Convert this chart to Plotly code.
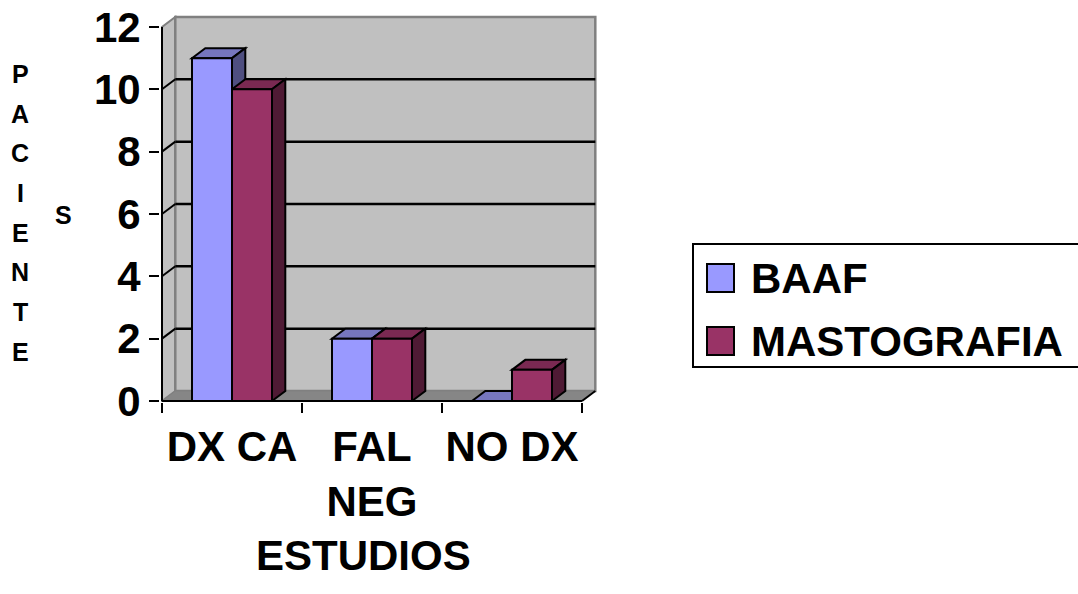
import plotly.graph_objects as go

# ---- data ----
categories = ["DX CA", "FAL<br>NEG", "NO DX"]
series_names = ["BAAF", "MASTOGRAFIA"]
baaf = [11, 2, 0]
mastografia = [10, 2, 1]
y_tick_values = [0, 2, 4, 6, 8, 10, 12]
y_title = "PACIENTES"
x_title = "ESTUDIOS"

# ---- styling ----
FONT = "Liberation Sans, Arial, sans-serif"
FRONT = ["#9999FF", "#993366"]
TOP = ["#7676BE", "#7A2952"]
SIDE = ["#4F4F80", "#4F1A34"]
WALL = "#C0C0C0"
EDGE = "#808080"
FLOOR = "#868686"

W, H = 1078, 594
M_L, M_R, M_T, M_B = 160, 480, 15, 192
PX_PER_CAT = 140.0
PX_PER_UNIT = 31.17
DX = 13.3 / PX_PER_CAT      # depth offset of the 3D box (category units)
DY = 10.0 / PX_PER_UNIT     # depth offset of the 3D box (value units)
BAR_W = 0.2857
OFFSETS = [-BAR_W, 0.0]
Y_TOP = y_tick_values[-1]

plot_w = W - M_L - M_R
plot_h = H - M_T - M_B
x_lo = -0.5 - 2.0 / PX_PER_CAT
x_hi = x_lo + plot_w / PX_PER_CAT
y_lo = -1.0 / PX_PER_UNIT
y_hi = y_lo + plot_h / PX_PER_UNIT


def px_x(px):
    return (px - M_L) / plot_w


def px_y(py):
    return (H - M_B - py) / plot_h


series_values = [baaf, mastografia]

fig = go.Figure()
for s, name in enumerate(series_names):
    fig.add_trace(go.Bar(
        x=categories, y=series_values[s], name=name,
        width=BAR_W, offset=OFFSETS[s],
        marker=dict(color=FRONT[s], line=dict(color="black", width=2)),
        hoverinfo="x+y+name", showlegend=False,
    ))

shapes = []
xl, xr = -0.5, len(categories) - 0.5

# side wall, back wall and floor of the 3D box
shapes.append(dict(type="path", xref="x", yref="y", layer="below",
                   path=f"M{xl},0 L{xl+DX},{DY} L{xl+DX},{Y_TOP+DY} L{xl},{Y_TOP} Z",
                   fillcolor=WALL, line=dict(color=EDGE, width=2)))
shapes.append(dict(type="rect", xref="x", yref="y", layer="below",
                   x0=xl + DX, x1=xr + DX, y0=DY, y1=Y_TOP + DY,
                   fillcolor=WALL, line=dict(color=EDGE, width=2.5)))
shapes.append(dict(type="path", xref="x", yref="y", layer="below",
                   path=f"M{xl},0 L{xr},0 L{xr+DX},{DY} L{xl+DX},{DY} Z",
                   fillcolor=FLOOR, line=dict(color=EDGE, width=1)))

# gridlines on the back wall and side wall
for v in y_tick_values[1:-1]:
    shapes.append(dict(type="line", xref="x", yref="y", layer="below",
                       x0=xl + DX, x1=xr + DX, y0=v + DY, y1=v + DY,
                       line=dict(color="black", width=2.5)))
    shapes.append(dict(type="line", xref="x", yref="y", layer="below",
                       x0=xl, x1=xl + DX, y0=v, y1=v + DY,
                       line=dict(color="black", width=2)))

# front edges (value axis line, category axis line, right floor corner)
shapes.append(dict(type="line", xref="x", yref="y", layer="below",
                   x0=xl, x1=xl, y0=0, y1=Y_TOP, line=dict(color="black", width=2)))
shapes.append(dict(type="line", xref="x", yref="y", layer="below",
                   x0=xl, x1=xr, y0=0, y1=0, line=dict(color="black", width=2)))
shapes.append(dict(type="line", xref="x", yref="y", layer="below",
                   x0=xr, x1=xr + DX, y0=0, y1=DY, line=dict(color="black", width=2)))

# top and side faces of each column
for i in range(len(categories)):
    for s in range(len(series_names)):
        v = series_values[s][i]
        x0 = i + OFFSETS[s]
        x1 = x0 + BAR_W
        shapes.append(dict(type="path", xref="x", yref="y", layer="below",
                           path=f"M{x0},{v} L{x1},{v} L{x1+DX},{v+DY} L{x0+DX},{v+DY} Z",
                           fillcolor=TOP[s], line=dict(color="black", width=2)))
        if v > 0:
            shapes.append(dict(type="path", xref="x", yref="y", layer="below",
                               path=f"M{x1},0 L{x1+DX},{DY} L{x1+DX},{v+DY} L{x1},{v} Z",
                               fillcolor=SIDE[s], line=dict(color="black", width=2)))

# legend box
shapes.append(dict(type="rect", xref="paper", yref="paper",
                   x0=px_x(693), x1=px_x(1090), y0=px_y(367), y1=px_y(244),
                   fillcolor="white", line=dict(color="black", width=2)))
legend_rows = [278, 341]
annotations = []
for s, name in enumerate(series_names):
    cy = legend_rows[s]
    shapes.append(dict(type="rect", xref="paper", yref="paper",
                       x0=px_x(707), x1=px_x(734), y0=px_y(cy + 14), y1=px_y(cy - 14),
                       fillcolor=FRONT[s], line=dict(color="black", width=2)))
    annotations.append(dict(xref="paper", yref="paper", x=px_x(749), y=px_y(cy),
                            xanchor="left", yanchor="middle", showarrow=False,
                            text=name,
                            font=dict(family=FONT, size=42, color="black", weight="bold")))

# vertical value-axis title, stacked letter by letter in two columns
col1, col2 = y_title[:-1], y_title[-1:]
for k, ch in enumerate(col1):
    annotations.append(dict(xref="paper", yref="paper", x=px_x(20), y=px_y(74 + 39.7 * k),
                            xanchor="center", yanchor="middle", showarrow=False, text=ch,
                            font=dict(family=FONT, size=25, color="black", weight="bold")))
for k, ch in enumerate(col2):
    annotations.append(dict(xref="paper", yref="paper", x=px_x(63), y=px_y(215 + 39.7 * k),
                            xanchor="center", yanchor="middle", showarrow=False, text=ch,
                            font=dict(family=FONT, size=25, color="black", weight="bold")))

# category-axis title
annotations.append(dict(xref="paper", yref="paper", x=px_x(363), y=px_y(555),
                        xanchor="center", yanchor="middle", showarrow=False, text=x_title,
                        font=dict(family=FONT, size=42, color="black", weight="bold")))

fig.update_layout(
    width=W, height=H,
    margin=dict(l=M_L, r=M_R, t=M_T, b=M_B, pad=0),
    paper_bgcolor="white", plot_bgcolor="white",
    barmode="overlay",
    shapes=shapes, annotations=annotations,
    showlegend=False,
    xaxis=dict(type="category", range=[x_lo, x_hi], tickson="boundaries",
               tickangle=0, ticklabelstandoff=16,
               ticks="outside", ticklen=10, tickwidth=2, tickcolor="black",
               showgrid=False, showline=False, zeroline=False, automargin=False,
               tickfont=dict(family=FONT, size=42, color="black", weight="bold")),
    yaxis=dict(range=[y_lo, y_hi], tickvals=y_tick_values,
               ticks="outside", ticklen=10, tickwidth=2, tickcolor="black",
               showgrid=False, showline=False, zeroline=False, automargin=False,
               tickfont=dict(family=FONT, size=42, color="black", weight="bold")),
)

fig.write_html("out.html")
